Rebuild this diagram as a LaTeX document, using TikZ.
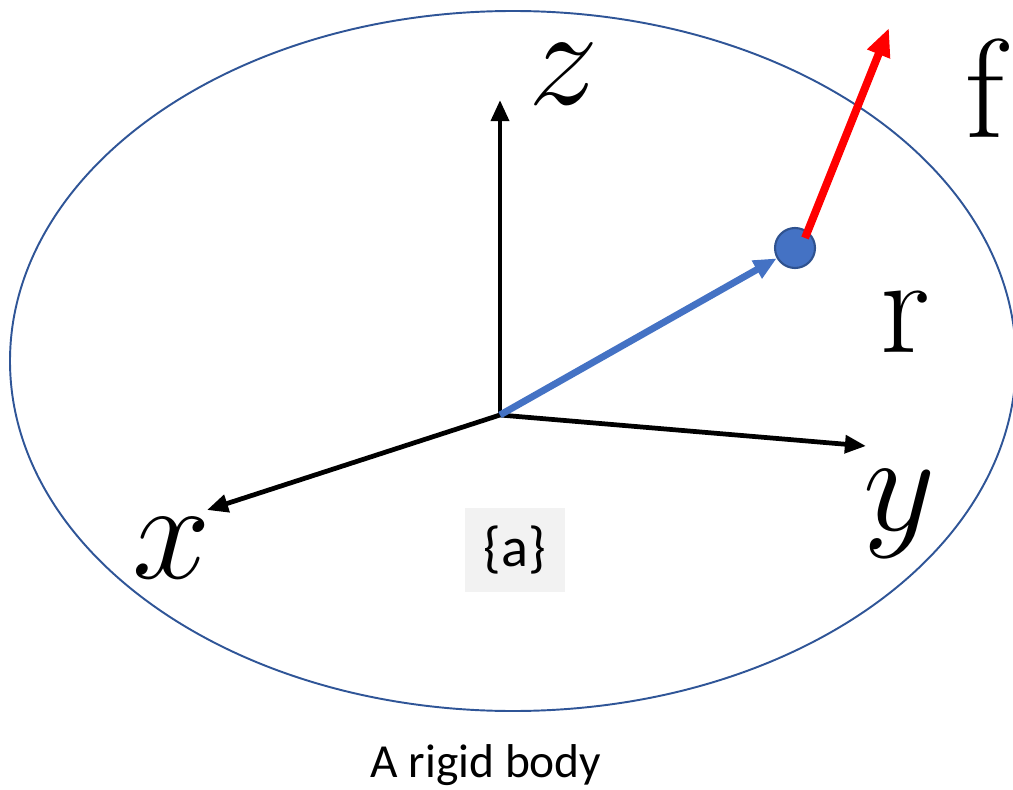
\RequirePackage{fix-cm}
\documentclass[tikz,border=0pt]{standalone}
\usepackage{fontspec}
\newfontfamily\calibri{Carlito}
\usetikzlibrary{arrows.meta}
\definecolor{rimblue}{RGB}{47,85,151}
\definecolor{vecblue}{RGB}{68,114,196}
\definecolor{dotrim}{RGB}{47,82,143}
\definecolor{tagbg}{RGB}{242,242,242}

\begin{document}
\begin{tikzpicture}[x=0.02cm,y=-0.02cm]
  \tikzstyle{axis}=[line width=2.7pt,-{Triangle[length=12pt,width=10pt]}]
  \tikzstyle{biglab}=[inner sep=0pt,font=\fontsize{80}{80}\selectfont]
  \useasboundingbox (0,0) rectangle (1013,790);
  \draw[rimblue,line width=1.1pt] (513,361) ellipse [x radius=503,y radius=350];
  % frame {a}
  \coordinate (O) at (500,415);
  \coordinate (X) at (207,510);
  \coordinate (Y) at (866,446);
  \coordinate (Z) at (500,100);
  \foreach \tip in {X,Y,Z}
    \draw[axis] (O) -- (\tip);
  \node[biglab] (lz) at (564,74) {$z$};
  \node[biglab] (lx) at (172,548) {$x$};
  \node[biglab] (ly) at (900,514) {$y$};
  \node[fill=tagbg,minimum width=100*0.02cm,minimum height=84*0.02cm,font=\calibri\fontsize{32}{32}\selectfont] (tag) at (515,550) {\{a\}};
  % point and force
  \node[circle,fill=vecblue,draw=dotrim,line width=1.2pt,minimum size=40*0.02cm,inner sep=0pt] (p) at (795,248) {};
  \draw[vecblue,line width=3.9pt,-{Triangle[length=13pt,width=11pt]}] (O) -- (p);
  \coordinate (F0) at (805,238);
  \coordinate (F) at (889,28);
  \draw[red,line width=4.5pt,-{Triangle[length=16pt,width=13pt]}] (F0) -- (F);
  \node[biglab] (lr) at (905,322) {r};
  \node[biglab] (lf) at (985,88) {f};
  \node[font=\calibri\fontsize{27}{27}\selectfont] (cap) at (486,765) {A rigid body};
\end{tikzpicture}
\end{document}
